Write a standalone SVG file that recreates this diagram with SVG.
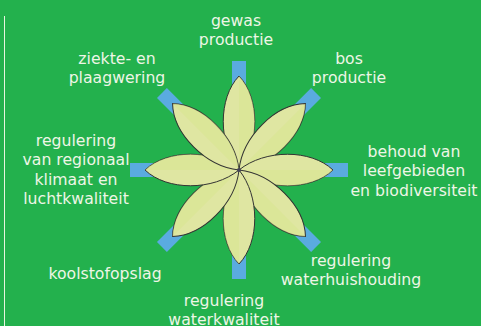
<svg xmlns="http://www.w3.org/2000/svg" width="481" height="326" viewBox="0 0 481 326">
<defs>
<style>
.t{font-family:"DejaVu Sans",Verdana,sans-serif;font-size:15.7px;fill:#eef6e6;text-anchor:middle}
.bar{fill:#5aabe0}
.petal{fill:#dfe6a2;stroke:#333;stroke-width:1}
.half{fill:#d8e58e;opacity:0.5}
</style>
<path id="pp" d="M0,0 C21,-26 21,-72 0,-94 C-21,-72 -21,-26 0,0Z"/>
<path id="ph" d="M0,0 C21,-26 21,-72 0,-94Z"/>
</defs>
<rect width="481" height="326" fill="#23b14d"/>
<line x1="4.5" y1="16" x2="4.5" y2="326" stroke="#e8f4e0" stroke-width="1"/>
<g id="connectors" transform="translate(239,170)">
<rect class="bar" x="-7" y="-109" width="14" height="218"/>
<rect class="bar" x="-109" y="-7" width="218" height="14"/>
<rect class="bar" x="-7" y="-109" width="14" height="218" transform="rotate(45)"/>
<rect class="bar" x="-7" y="-109" width="14" height="218" transform="rotate(-45)"/>
</g>
<g id="flower" transform="translate(239,170)">
<g transform="rotate(0)"><use href="#pp" class="petal"/><use href="#ph" class="half"/></g>
<g transform="rotate(45)"><use href="#pp" class="petal"/><use href="#ph" class="half"/></g>
<g transform="rotate(90)"><use href="#pp" class="petal"/><use href="#ph" class="half"/></g>
<g transform="rotate(135)"><use href="#pp" class="petal"/><use href="#ph" class="half"/></g>
<g transform="rotate(180)"><use href="#pp" class="petal"/><use href="#ph" class="half"/></g>
<g transform="rotate(225)"><use href="#pp" class="petal"/><use href="#ph" class="half"/></g>
<g transform="rotate(270)"><use href="#pp" class="petal"/><use href="#ph" class="half"/></g>
<g transform="rotate(315)"><use href="#pp" class="petal"/><use href="#ph" class="half"/></g>
<circle r="2" fill="#445"/>
</g>
<g id="gewas"><text class="t" x="236" y="26">gewas</text><text class="t" x="236" y="45">productie</text></g>
<g id="ziekte"><text class="t" x="117" y="64">ziekte- en</text><text class="t" x="117" y="83">plaagwering</text></g>
<g id="bos"><text class="t" x="349" y="64">bos</text><text class="t" x="349" y="83">productie</text></g>
<g id="behoud"><text class="t" x="414" y="157">behoud van</text><text class="t" x="414" y="176">leefgebieden</text><text class="t" x="414" y="196">en biodiversiteit</text></g>
<g id="klimaat"><text class="t" x="76" y="146">regulering</text><text class="t" x="76" y="165">van regionaal</text><text class="t" x="76" y="185">klimaat en</text><text class="t" x="76" y="204">luchtkwaliteit</text></g>
<g id="koolstof"><text class="t" x="105" y="279">koolstofopslag</text></g>
<g id="waterhuis"><text class="t" x="351" y="266">regulering</text><text class="t" x="351" y="285">waterhuishouding</text></g>
<g id="waterkwal"><text class="t" x="224" y="306">regulering</text><text class="t" x="224" y="325">waterkwaliteit</text></g>
</svg>
